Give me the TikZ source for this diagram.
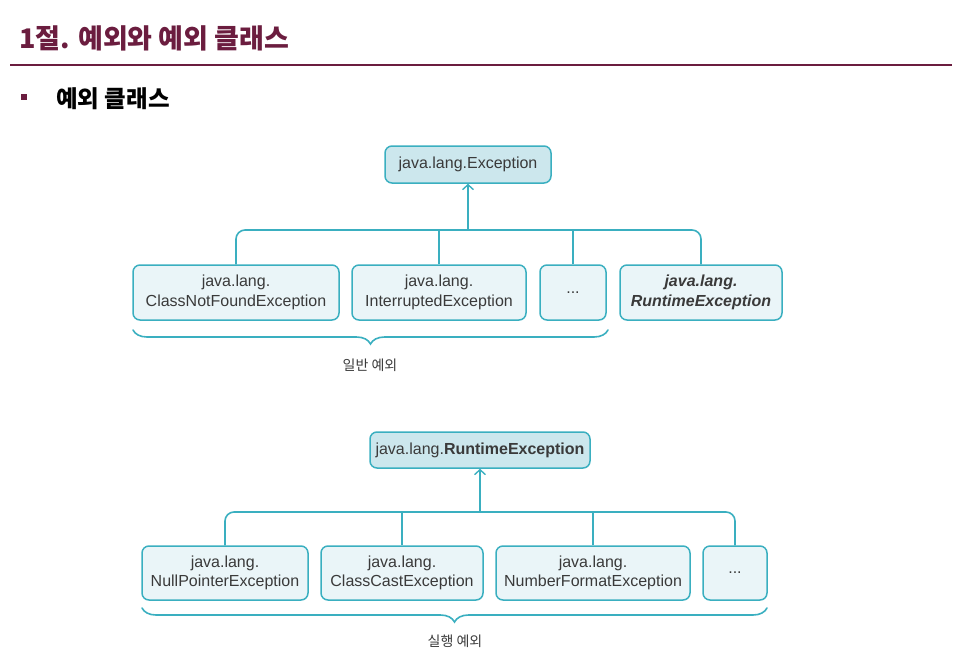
\documentclass[tikz,border=0pt]{standalone}
\usepackage{fontspec}
\setmainfont{Liberation Sans}
\newfontfamily\kr{Noto Sans CJK KR}
\usetikzlibrary{arrows.meta,decorations.pathreplacing}

\definecolor{maroon}{HTML}{6B1D3F}
\definecolor{teal1}{HTML}{3AAFC0}
\definecolor{boxdark}{HTML}{CCE7ED}
\definecolor{boxlight}{HTML}{EAF5F8}
\definecolor{txt}{HTML}{3A3A3A}

\tikzset{
  x=1pt, y=-1pt,
  rootbox/.style={draw=teal1, fill=boxdark, rounded corners=7pt, line width=1.5pt,
    text=txt, inner sep=0pt, font=\fontsize{16}{19}\selectfont},
  leafbox/.style={draw=teal1, fill=boxlight, rounded corners=7pt, line width=1.5pt,
    text=txt, inner sep=0pt, align=center, font=\fontsize{16}{19.5}\selectfont},
  conn/.style={draw=teal1, line width=1.6pt},
  bus/.style={conn, rounded corners=9pt},
  up/.style={conn, -{Straight Barb[length=5pt,width=11pt,line width=1.4pt]}},
  grp/.style={conn, line cap=round, decorate,
    decoration={brace, mirror, amplitude=14pt, aspect=0.5}},
  grplabel/.style={text=txt, font=\kr\fontsize{14}{16}\selectfont}
}

\begin{document}
\begin{tikzpicture}
\useasboundingbox (0,0) rectangle (969,667);

% heading
\node[anchor=west, text=maroon, inner sep=0pt, font=\kr\bfseries\fontsize{27}{31}\selectfont]
  (title) at (19,38) {1절. 예외와 예외 클래스};
\draw[maroon, line width=1.8pt] (10,65) -- (952,65);
\fill[maroon] (21,94) rectangle (27,100);
\node[anchor=west, inner sep=0pt, font=\kr\bfseries\fontsize{23.5}{27}\selectfont]
  (sub) at (56,99) {예외 클래스};

% checked exceptions
\node[rootbox, minimum width=166, minimum height=37] (exc) at (468,164.5) {java.lang.Exception};
\node[leafbox, minimum width=206, minimum height=55] (cnf) at (236,292.5) {java.lang.\\ClassNotFoundException};
\node[leafbox, minimum width=174, minimum height=55] (ie)  at (439,292.5) {java.lang.\\InterruptedException};
\node[leafbox, minimum width=66,  minimum height=55] (ea)  at (573,292.5) {...};
\node[leafbox, minimum width=162, minimum height=55, font=\fontsize{16}{19.5}\selectfont\bfseries\itshape]
  (rte) at (701,292.5) {java.lang.\\RuntimeException};

\coordinate (busA) at (468,230);
\draw[bus] (cnf.north) -- (cnf.north |- busA) -- (rte.north |- busA) -- (rte.north);
\draw[conn] (ie.north) -- (ie.north |- busA);
\draw[conn] (ea.north) -- (ea.north |- busA);
\draw[up] (exc.south |- busA) -- (exc.south);

\coordinate (gA1) at (133,330);
\coordinate (gA2) at (608,330);
\draw[grp] (gA1) -- (gA2);
\node[grplabel] (gAl) at (370,365) {일반 예외};

% runtime exceptions
\node[rootbox, minimum width=220, minimum height=36] (rt) at (480,450) {java.lang.\textbf{RuntimeException}};
\node[leafbox, minimum width=166, minimum height=54] (npe) at (225,573) {java.lang.\\NullPointerException};
\node[leafbox, minimum width=162, minimum height=54] (cce) at (402,573) {java.lang.\\ClassCastException};
\node[leafbox, minimum width=194, minimum height=54] (nfe) at (593,573) {java.lang.\\NumberFormatException};
\node[leafbox, minimum width=64,  minimum height=54] (ra)  at (735,573) {...};

\coordinate (busB) at (480,512);
\draw[bus] (npe.north) -- (npe.north |- busB) -- (ra.north |- busB) -- (ra.north);
\draw[conn] (cce.north) -- (cce.north |- busB);
\draw[conn] (nfe.north) -- (nfe.north |- busB);
\draw[up] (rt.south |- busB) -- (rt.south);

\coordinate (gB1) at (142,608);
\coordinate (gB2) at (767,608);
\draw[grp] (gB1) -- (gB2);
\node[grplabel] (gBl) at (455,641) {실행 예외};
\end{tikzpicture}
\end{document}
